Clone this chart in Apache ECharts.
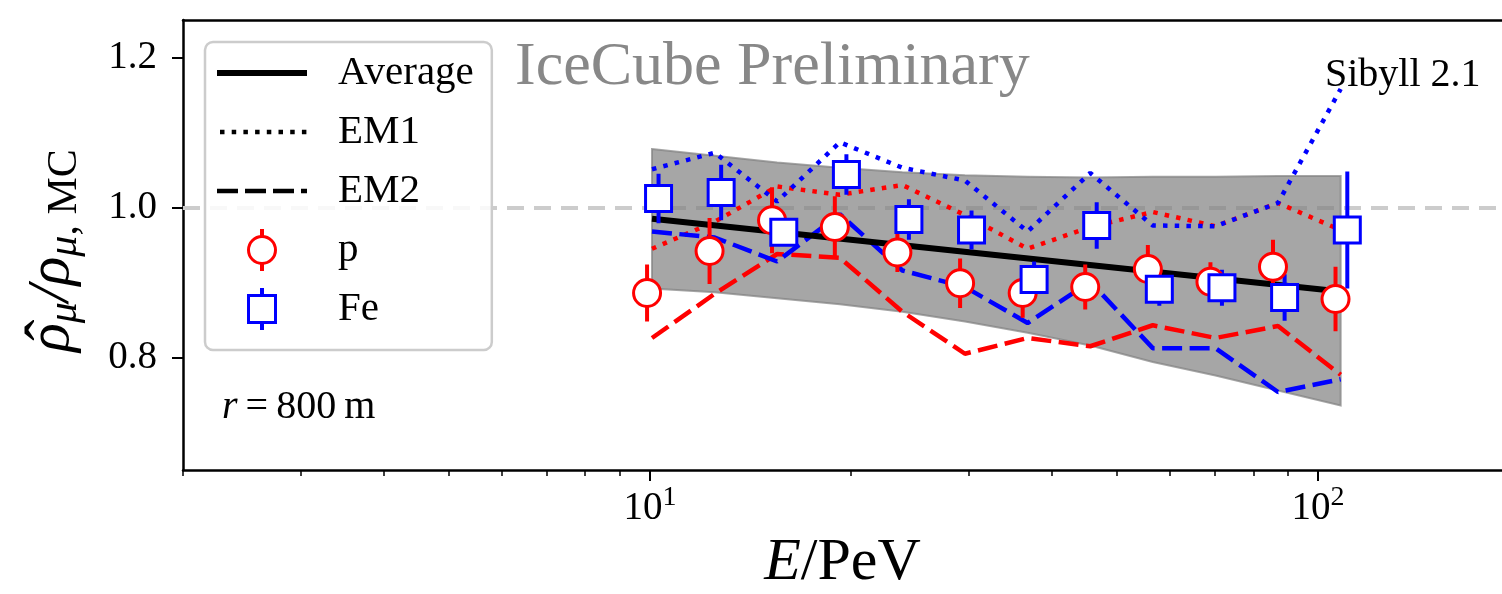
<!DOCTYPE html>
<html>
<head>
<meta charset="utf-8">
<script src="https://cdn.jsdelivr.net/npm/echarts@6/dist/echarts.min.js"></script>
<style>
html, body { margin: 0; padding: 0; background: #fff; }
#main { width: 1502px; height: 594px; }
</style>
</head>
<body>
<div id="main"></div>
<script>
// energy bins (PeV); p and Fe markers are drawn slightly shifted left / right
const binE = [10.07, 12.50, 15.50, 19.24, 23.87, 29.61, 36.75, 45.60, 56.57, 70.21, 87.10, 108.1];
const pE = [9.90, 12.28, 15.23, 18.91, 23.46, 29.12, 36.13, 44.82, 55.62, 69.01, 85.61, 106.2];
const feE = [10.30, 12.78, 15.86, 19.68, 24.41, 30.29, 37.58, 46.63, 57.86, 71.80, 89.11, 110.6];

// measured ratio with statistical errors
const pVal = [0.886, 0.942, 0.983, 0.974, 0.940, 0.899, 0.886, 0.894, 0.918, 0.901, 0.921, 0.878];
const pErr = [0.038, 0.044, 0.044, 0.041, 0.026, 0.033, 0.033, 0.030, 0.032, 0.026, 0.036, 0.043];
const feVal = [1.012, 1.020, 0.967, 1.044, 0.984, 0.970, 0.904, 0.976, 0.891, 0.893, 0.880, 0.970];
const feErr = [0.033, 0.037, 0.018, 0.027, 0.027, 0.026, 0.024, 0.031, 0.022, 0.024, 0.031, 0.078];

// EM model variations
const pEM1 = [0.945, 0.981, 1.028, 1.017, 1.030, 0.990, 0.945, 0.974, 0.994, 0.975, 1.006, 0.970];
const feEM1 = [1.051, 1.073, 1.008, 1.087, 1.053, 1.036, 0.968, 1.046, 0.976, 0.975, 1.006, 1.158];
const pEM2 = [0.826, 0.885, 0.938, 0.933, 0.861, 0.805, 0.826, 0.815, 0.843, 0.826, 0.842, 0.777];
const feEM2 = [0.968, 0.960, 0.928, 0.991, 0.916, 0.894, 0.846, 0.901, 0.8125, 0.8125, 0.754, 0.771];

// systematic band
const bandTop = [1.078, 1.069, 1.060, 1.053, 1.047, 1.043, 1.041, 1.040, 1.041, 1.041, 1.042, 1.042];
const bandBottom = [0.892, 0.887, 0.879, 0.871, 0.861, 0.848, 0.833, 0.816, 0.794, 0.776, 0.756, 0.736];

// average fit
const avgE = [10.07, 108.1];
const avgVal = [0.985, 0.888];

const yTicks = [0.8, 1.0, 1.2];
const xMajor = [10, 100];
const xMinor = [2, 3, 4, 5, 6, 7, 8, 9, 20, 30, 40, 50, 60, 70, 80, 90];

const SERIF = '"Liberation Serif", "DejaVu Serif", serif';
const RED = '#ff0000';
const BLUE = '#0000ff';
const DOT = [4.5, 7.2];
const DASH = [20, 7.5];

// legend icons, 90 x 42 box (tiny corner squares pin the bounding box)
const corners = 'M0,0h0.01v0.01h-0.01z M90,42h-0.01v-0.01h0.01z ';
const iconAvg = 'path://' + corners + 'M0,18H90V24H0z';
let dots = '';
for (let k = 0; k < 8; k++) dots += 'M' + (3 + 11.7 * k) + ',18.75h4.5v4.5h-4.5z ';
const iconEM1 = 'path://' + corners + dots;
const iconEM2 = 'path://' + corners + 'M0,18.75h21v4.5h-21z M28,18.75h21v4.5h-21z M56,18.75h21v4.5h-21z M84,18.75h6v4.5h-6z';
const iconP = 'path://' + corners +
  'M30,21A15,15 0 1 1 60,21A15,15 0 1 1 30,21z M33,21A12,12 0 1 0 57,21A12,12 0 1 0 33,21z ' +
  'M43,0h4v6.5h-4z M43,35.5h4v6.5h-4z';
const iconFe = 'path://' + corners +
  'M30,6H60V36H30z M33,9V33H57V9z M43,0h4v6h-4z M43,36h4v6h-4z';

function pairs(xs, ys) {
  return xs.map((x, i) => [x, ys[i]]);
}

function curve(name, vals, color, dash) {
  return {
    type: 'line', name: name, z: 3, silent: true,
    data: pairs(binE, vals),
    symbol: 'none',
    lineStyle: { color: color, width: 4.5, type: dash, cap: 'butt' }
  };
}

function errorBars(name, xs, vals, errs, color) {
  return {
    type: 'custom', name: name, z: 4, silent: true,
    data: xs.map((x, i) => [x, vals[i], errs[i]]),
    encode: { x: 0, y: 1 },
    renderItem: function (params, api) {
      const x = api.value(0), v = api.value(1), e = api.value(2);
      const a = api.coord([x, v - e]);
      const b = api.coord([x, v + e]);
      return {
        type: 'line',
        shape: { x1: a[0], y1: a[1], x2: b[0], y2: b[1] },
        style: { stroke: color, lineWidth: 4 }
      };
    }
  };
}

const chart = echarts.init(document.getElementById('main'));

chart.setOption({
  animation: false,
  grid: { left: 183, right: 0, top: 20, bottom: 124, outerBoundsMode: 'none', containLabel: false },
  legend: {
    left: 205, top: 42,
    orient: 'vertical',
    selectedMode: false,
    padding: [10, 18, 20, 12],
    backgroundColor: 'rgba(255,255,255,0.85)',
    borderColor: '#cccccc', borderWidth: 2.5, borderRadius: 8,
    itemWidth: 90, itemHeight: 42, itemGap: 17,
    textStyle: { fontFamily: SERIF, fontSize: 41, color: '#000', padding: [0, 0, 0, 26] },
    data: [
      { name: 'Average', icon: iconAvg, itemStyle: { color: '#000', borderWidth: 0, opacity: 1 } },
      { name: 'EM1', icon: iconEM1, itemStyle: { color: '#000', borderWidth: 0, opacity: 1 } },
      { name: 'EM2', icon: iconEM2, itemStyle: { color: '#000', borderWidth: 0, opacity: 1 } },
      { name: 'p', icon: iconP, itemStyle: { color: RED, borderWidth: 0, opacity: 1 } },
      { name: 'Fe', icon: iconFe, itemStyle: { color: BLUE, borderWidth: 0, opacity: 1 } }
    ]
  },
  xAxis: [
    {
      type: 'log', logBase: 10, min: 2, max: 188.5,
      axisLine: { show: true, lineStyle: { color: '#000', width: 2.5 } },
      axisTick: { show: true, customValues: xMajor, length: 11, lineStyle: { color: '#000', width: 2 } },
      axisLabel: {
        customValues: xMajor, margin: 14, color: '#000',
        formatter: function (v) {
          return '{b|10}{s|' + Math.round(Math.log10(v)) + '}';
        },
        rich: {
          b: { fontFamily: SERIF, fontSize: 39, color: '#000' },
          s: { fontFamily: SERIF, fontSize: 28, color: '#000', padding: [0, 0, 22, 0] }
        }
      },
      splitLine: { show: false },
      name: '{i|E}{n|/PeV}',
      nameLocation: 'middle', nameGap: 57,
      nameTextStyle: {
        rich: {
          i: { fontFamily: SERIF, fontStyle: 'italic', fontSize: 60, color: '#000' },
          n: { fontFamily: SERIF, fontSize: 60, color: '#000' }
        }
      }
    },
    {
      type: 'log', logBase: 10, min: 2, max: 188.5, position: 'bottom',
      axisLine: { show: false },
      axisTick: { show: true, customValues: xMinor, length: 6, lineStyle: { color: '#000', width: 1.5 } },
      axisLabel: { show: false },
      splitLine: { show: false }
    },
    {
      type: 'value', position: 'top', min: 0, max: 1,
      axisLine: { show: true, lineStyle: { color: '#000', width: 2.5 } },
      axisTick: { show: false }, axisLabel: { show: false }, splitLine: { show: false }
    }
  ],
  yAxis: {
    type: 'value', min: 0.65, max: 1.25,
    axisLine: { show: true, lineStyle: { color: '#000', width: 2.5 } },
    axisTick: { show: true, customValues: yTicks, length: 11, lineStyle: { color: '#000', width: 2 } },
    axisLabel: {
      customValues: yTicks, margin: 26,
      fontFamily: SERIF, fontSize: 39, color: '#000',
      formatter: function (v) { return v.toFixed(1); }
    },
    splitLine: { show: false }
  },
  graphic: [
    {
      // y axis title, rotated; hat drawn as its own glyph over the first rho
      type: 'group', x: 52, y: 352, rotation: Math.PI / 2,
      children: [
        {
          type: 'text', x: 0, y: 0,
          style: {
            text: '{r|\u03C1}{s|\u03BC}{r|/\u03C1}{s|\u03BC}{t|, MC}',
            textAlign: 'left', textVerticalAlign: 'middle',
            rich: {
              r: { fontFamily: SERIF, fontStyle: 'italic', fontSize: 60, fill: '#000' },
              s: { fontFamily: SERIF, fontStyle: 'italic', fontSize: 42, fill: '#000', padding: [26, 0, 0, 0] },
              t: { fontFamily: SERIF, fontSize: 42, fill: '#000', padding: [26, 0, 0, 0] }
            }
          }
        },
        {
          type: 'text', x: 22, y: 0,
          style: { text: '\u02C6', font: '64px ' + SERIF, fill: '#000', textAlign: 'center', textVerticalAlign: 'middle' }
        }
      ]
    },
    {
      type: 'text', x: 515, y: 68, z: 1,
      style: { text: 'IceCube Preliminary', font: '62px ' + SERIF, fill: '#888888', textAlign: 'left', textVerticalAlign: 'middle' }
    },
    {
      type: 'text', x: 1325, y: 75, z: 10,
      style: { text: 'Sibyll 2.1', font: '40px ' + SERIF, fill: '#000', textAlign: 'left', textVerticalAlign: 'middle' }
    },
    {
      type: 'text', x: 222, y: 407, z: 10,
      style: {
        text: '{i|r}{n|\u2009=\u2009800\u2009m}',
        textAlign: 'left', textVerticalAlign: 'middle',
        rich: {
          i: { fontFamily: SERIF, fontStyle: 'italic', fontSize: 40, fill: '#000' },
          n: { fontFamily: SERIF, fontSize: 40, fill: '#000' }
        }
      }
    }
  ],
  series: [
    {
      type: 'custom', name: 'band', z: 2, silent: true,
      data: binE.map((x, i) => [x, bandTop[i], bandBottom[i]]),
      encode: { x: 0, y: [1, 2] },
      renderItem: function (params, api) {
        if (params.dataIndex !== 0) return null;
        const pts = [];
        for (let i = 0; i < binE.length; i++) pts.push(api.coord([binE[i], bandTop[i]]));
        for (let i = binE.length - 1; i >= 0; i--) pts.push(api.coord([binE[i], bandBottom[i]]));
        return {
          type: 'polygon', shape: { points: pts },
          style: { fill: 'rgba(128,128,128,0.7)', stroke: 'rgba(128,128,128,0.7)', lineWidth: 2 }
        };
      }
    },
    curve('EM1', pEM1, RED, DOT),
    curve('EM1', feEM1, BLUE, DOT),
    curve('EM2', pEM2, RED, DASH),
    curve('EM2', feEM2, BLUE, DASH),
    {
      type: 'line', name: 'Average', z: 3, silent: true,
      data: pairs(avgE, avgVal),
      symbol: 'none',
      lineStyle: { color: '#000', width: 6 },
      markLine: {
        silent: true, symbol: 'none', z: 1,
        label: { show: false },
        lineStyle: { color: '#cccccc', width: 4, type: [17, 10] },
        data: [{ yAxis: 1 }]
      }
    },
    errorBars('p', pE, pVal, pErr, RED),
    {
      type: 'scatter', name: 'p', z: 5, silent: true,
      data: pairs(pE, pVal),
      symbol: 'circle', symbolSize: 27,
      itemStyle: { color: '#fff', borderColor: RED, borderWidth: 3, opacity: 1 }
    },
    errorBars('Fe', feE, feVal, feErr, BLUE),
    {
      type: 'scatter', name: 'Fe', z: 6, silent: true,
      data: pairs(feE, feVal),
      symbol: 'rect', symbolSize: 26,
      itemStyle: { color: '#fff', borderColor: BLUE, borderWidth: 3, opacity: 1 }
    }
  ]
});
</script>
</body>
</html>
